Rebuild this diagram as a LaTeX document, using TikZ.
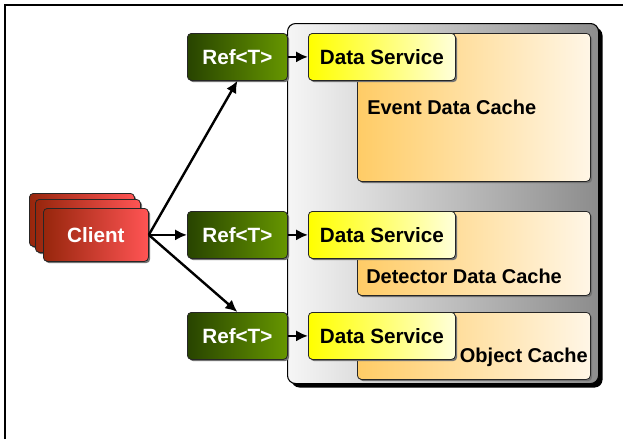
\documentclass[tikz,border=0pt]{standalone}
\usepackage{fontspec}
\setmainfont{Liberation Sans}
\usetikzlibrary{positioning,shadows,arrows.meta}
\definecolor{clientL}{RGB}{150,38,12}
\definecolor{clientR}{RGB}{255,84,84}
\definecolor{refL}{RGB}{40,68,0}
\definecolor{refR}{RGB}{102,150,0}
\definecolor{dsL}{RGB}{255,255,0}
\definecolor{dsR}{RGB}{255,255,218}
\definecolor{cacheL}{RGB}{255,204,102}
\definecolor{cacheR}{RGB}{255,246,230}
\definecolor{contL}{RGB}{246,246,246}
\definecolor{contR}{RGB}{140,140,140}
\tikzset{
  box/.style={draw=black!85, line width=0.6pt, rounded corners=3pt, inner sep=0pt,
    font=\fontsize{15.5}{18}\selectfont\bfseries},
  smallshadow/.style={drop shadow={shadow xshift=1.3pt, shadow yshift=-1.3pt, fill=black!55, opacity=1}},
  clientbox/.style={box, smallshadow, left color=clientL, right color=clientR, text=white,
    minimum width=78.75pt, minimum height=39.75pt, anchor=north west},
  refbox/.style={box, smallshadow, left color=refL, right color=refR, text=white,
    minimum width=75pt, minimum height=35.25pt, anchor=north west},
  dsbox/.style={box, smallshadow, left color=dsL, right color=dsR,
    minimum width=110.25pt, minimum height=35.25pt, anchor=north west},
  cachebox/.style={box, smallshadow, left color=cacheL, right color=cacheR,
    minimum width=174.75pt, anchor=north west},
  cachetext/.style={inner sep=0pt, font=\fontsize{15}{18}\selectfont\bfseries},
  arr/.style={-{Latex[length=9pt,width=8.5pt]}, line width=1.8pt},
}
\begin{document}
\begin{tikzpicture}[x=0.75pt, y=-0.75pt]
    \useasboundingbox (0,0) rectangle (623,439);
    \draw[line width=1.5pt] (5,439) -- (5,5) -- (623,5);
    % container
    \node[draw=black, line width=0.8pt, rounded corners=6pt, inner sep=0pt,
      left color=contL, right color=contR, anchor=north west,
      minimum width=233.25pt, minimum height=270pt,
      drop shadow={shadow xshift=3pt, shadow yshift=-3pt, fill=black, opacity=1}]
      (cont) at (287,23) {};
    % caches
    \node[cachebox, minimum height=111pt] (evcache) at (357,33) {};
    \node[cachebox, minimum height=63pt] (detcache) at (357,211) {};
    \node[cachebox, minimum height=50.25pt] (objcache) at (357,312) {};
    \node[cachetext, anchor=west] (evtext) at (367,107) {Event Data Cache};
    \node[cachetext, anchor=west] (dettext) at (366,276) {Detector Data Cache};
    \node[cachetext, anchor=east] (objtext) at (588,357) {Object Cache};
    % client stack
    \node[clientbox] (client3) at (29,193) {};
    \node[clientbox] (client2) at (35,199) {};
    \node[clientbox] (client) at (43,208) {Client};
    % refs and data services
    \foreach \n/\y in {1/33,2/211,3/312}{
        \node[refbox] (ref\n) at (187,\y) {Ref<T>};
        \node[dsbox] (ds\n) at (308,\y) {Data Service};
        \draw[arr] (ref\n.east) -- (ds\n.west);
    }
    \draw[arr] (client.east) -- (ref1.south);
    \draw[arr] (client.east) -- (ref2.west);
    \draw[arr] (client.east) -- (ref3.north);
\end{tikzpicture}
\end{document}
